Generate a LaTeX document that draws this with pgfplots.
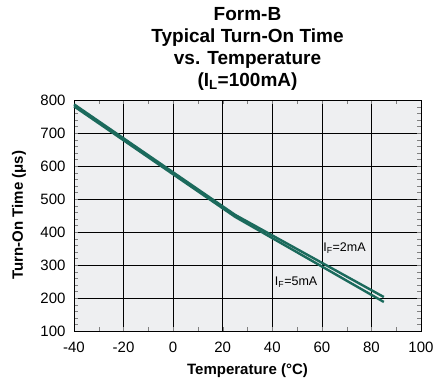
\documentclass[border=0pt]{standalone}
\usepackage{pgfplots}
\pgfplotsset{compat=1.18}
\usepackage{fontspec}
\setmainfont{Liberation Sans}
\definecolor{lineC}{HTML}{1B6A5C}
\definecolor{bgC}{HTML}{EEEFF1}
\begin{document}
\begin{tikzpicture}
\path[use as bounding box] (-74pt,-50pt) rectangle (361pt,331pt);
\begin{axis}[
  at={(0pt,0pt)}, anchor=south west,
  width=347pt, height=231pt, scale only axis,
  xmin=-40, xmax=100, ymin=100, ymax=800,
  xtick={-40,-20,...,100}, ytick={100,200,...,800},
  minor x tick num=1, minor y tick num=4,
  tick align=inside, tick pos=both,
  major tick length=4pt, minor tick length=4pt,
  grid=major, major grid style={black, line width=0.6pt},
  axis line style={black, line width=0.8pt},
  axis background/.style={fill=bgC},
  /pgf/number format/assume math mode=true,
  tick label style={font=\fontsize{15}{17}\selectfont},
  xticklabel style={yshift=-7pt},
  yticklabel style={xshift=-5pt},
  clip=false,
]
\addplot[lineC, line width=2.4pt] coordinates {(-40,787) (25,452) (85,203)};
\addplot[lineC, line width=2.4pt] coordinates {(-40,781) (25,446) (85,188)};
\node[anchor=west, font=\fontsize{12.5}{14}\selectfont, inner sep=0pt] at (axis cs:60.5,352) {I\textsubscript{F}=2mA};
\node[anchor=west, font=\fontsize{12.5}{14}\selectfont, inner sep=0pt] at (axis cs:41,249) {I\textsubscript{F}=5mA};
\end{axis}
\node[font=\fontsize{15}{17}\selectfont\bfseries] at (173.5pt,-40pt) {Temperature (°C)};
\node[rotate=90, font=\fontsize{15}{17}\selectfont\bfseries] at (-55pt,116pt) {Turn-On Time (μs)};
\node[align=center, font=\fontsize{19}{22}\selectfont\bfseries] at (173.5pt,282.5pt) {Form-B\\Typical Turn-On Time\\vs. Temperature\\(I\textsubscript{L}=100mA)};
\end{tikzpicture}
\end{document}
